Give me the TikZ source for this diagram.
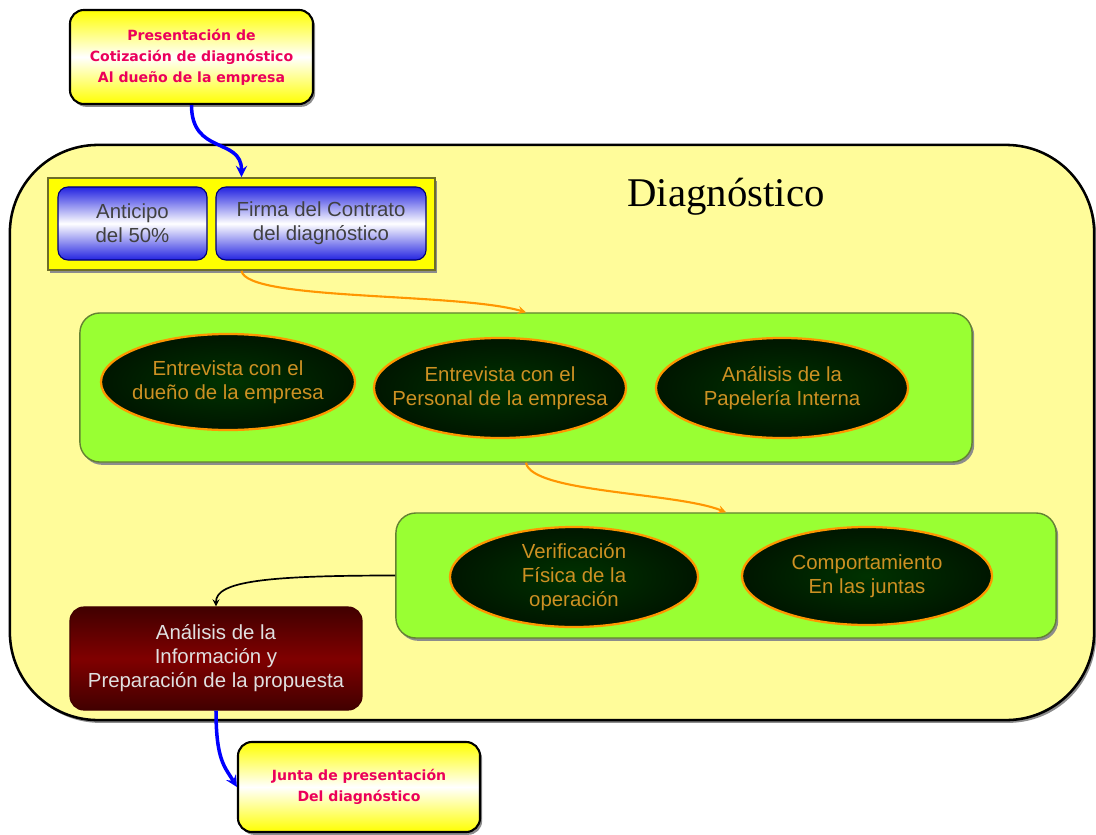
\documentclass[tikz,border=0pt]{standalone}
\usepackage{fontspec}
\setmainfont{Liberation Sans}
\newfontfamily\titulofont{Liberation Serif}
\newfontfamily\rosafont{DejaVu Sans}
\usetikzlibrary{shapes.geometric}
\usetikzlibrary{shadows}
\usetikzlibrary{calc}

\definecolor{fondo}{RGB}{255,252,154}
\definecolor{amarillo}{RGB}{255,255,0}
\definecolor{oliva}{RGB}{110,110,40}
\definecolor{lima}{RGB}{153,255,51}
\definecolor{bordelima}{RGB}{100,130,50}
\definecolor{verdeosc}{RGB}{0,50,0}
\definecolor{verdenegro}{RGB}{0,22,0}
\definecolor{naranja}{RGB}{255,150,0}
\definecolor{oro}{RGB}{205,145,35}
\definecolor{rosa}{RGB}{235,0,90}
\definecolor{azul}{RGB}{35,35,225}
\definecolor{azulosc}{RGB}{0,0,120}
\definecolor{vino}{RGB}{128,0,0}
\definecolor{vinoosc}{RGB}{65,0,0}

\newcommand{\Tx}{\fontsize{14.5}{17}\selectfont}
\newcommand{\Rs}{\rosafont\bfseries\fontsize{10}{15}\selectfont}

\tikzset{
  sombra/.style={drop shadow={shadow xshift=1.5pt,shadow yshift=-2pt,fill=black!45,opacity=1}},
  nota/.style={rectangle, rounded corners=0.35cm, draw=black, line width=1.5pt,
    top color=amarillo, bottom color=amarillo, middle color=white,
    text=rosa, font=\Rs, align=center, inner sep=0pt, sombra},
  boton/.style={rectangle, rounded corners=0.25cm, draw=azulosc, line width=0.8pt,
    top color=azul, bottom color=azul, middle color=white,
    text=black!75, font=\Tx, align=center, inner sep=0pt},
  franja/.style={rectangle, rounded corners=0.5cm, draw=bordelima, line width=1pt,
    fill=lima, inner sep=0pt, sombra},
  burbuja/.style={ellipse, draw=naranja, line width=1.6pt,
    inner color=verdeosc, outer color=verdenegro,
    text=oro, font=\Tx, align=center, inner xsep=-14pt, inner ysep=0pt},
  flecha/.style={-stealth},
}

\begin{document}
\begin{tikzpicture}[x=0.025cm, y=-0.025cm]
\useasboundingbox (0,0) rectangle (1096,834);
\clip (0,0) rectangle (1096,834);

%%%%%%%%%%%%%%%%%%%%%%%%%%%%%%%%%%%%%%%%%%%%%%%%%%%%%%%%%%%%%% marco
\node[rectangle, rounded corners=2.2cm, draw=black, line width=1.8pt, fill=fondo,
  minimum width=27.1cm, minimum height=14.375cm, inner sep=0pt, sombra] (diag) at (552,432.5) {};
\node[font=\titulofont\fontsize{29}{32}\selectfont] (titulo) at (726,197) {Diagnóstico};

%%%%%%%%%%%%%%%%%%%%%%%%%%%%%%%%%%%%%%%%%%%%%%%%%%%%%%%%%%%%%% entrada
\node[nota, minimum width=6.075cm, minimum height=2.35cm] (pres) at (191.5,57)
  {Presentación de\\Cotización de diagnóstico\\Al dueño de la empresa};

\node[rectangle, draw=oliva, line width=1.2pt, fill=amarillo,
  minimum width=9.675cm, minimum height=2.3cm, inner sep=0pt, sombra] (grupo) at (241.5,224) {};
\node[boton, minimum width=3.725cm, minimum height=1.825cm] (anticipo) at (132.5,223.5)
  {Anticipo\\del 50\%};
\node[boton, minimum width=5.25cm, minimum height=1.825cm] (firma) at (321,223.5)
  {Firma del Contrato\\del diagnóstico};

%%%%%%%%%%%%%%%%%%%%%%%%%%%%%%%%%%%%%%%%%%%%%%%%%%%%%%%%%%%%%% entrevistas
\node[franja, minimum width=22.3cm, minimum height=3.725cm] (verde1) at (526,387.5) {};
\node[burbuja, minimum width=6.35cm, minimum height=2.4cm] (dueno) at (228,382)
  {Entrevista con el\\dueño de la empresa};
\node[burbuja, minimum width=6.3cm, minimum height=2.5cm] (personal) at (500,388)
  {Entrevista con el\\Personal de la empresa};
\node[burbuja, minimum width=6.3cm, minimum height=2.5cm] (papeleria) at (782,388)
  {Análisis de la\\Papelería Interna};

%%%%%%%%%%%%%%%%%%%%%%%%%%%%%%%%%%%%%%%%%%%%%%%%%%%%%%%%%%%%%% observacion
\node[franja, minimum width=16.5cm, minimum height=3.125cm] (verde2) at (726,575.5) {};
\node[burbuja, minimum width=6.2cm, minimum height=2.5cm] (verif) at (574,577)
  {Verificación\\Física de la\\operación};
\node[burbuja, minimum width=6.25cm, minimum height=2.45cm] (juntas) at (867,576)
  {Comportamiento\\En las juntas};

%%%%%%%%%%%%%%%%%%%%%%%%%%%%%%%%%%%%%%%%%%%%%%%%%%%%%%%%%%%%%% salida
\node[rectangle, rounded corners=0.35cm, draw=vinoosc, line width=0.8pt,
  top color=vinoosc, bottom color=vinoosc, middle color=vino,
  text=black!12, font=\Tx, align=center, inner sep=0pt,
  minimum width=7.3cm, minimum height=2.575cm] (analisis) at (216,658.5)
  {Análisis de la\\Información y\\Preparación de la propuesta};

\node[nota, minimum width=6.05cm, minimum height=2.25cm] (junta) at (359,787)
  {Junta de presentación\\Del diagnóstico};

%%%%%%%%%%%%%%%%%%%%%%%%%%%%%%%%%%%%%%%%%%%%%%%%%%%%%%%%%%%%%% flechas
\draw[line width=2.5pt, blue, flecha] (pres.south) .. controls +(0,50) and +(0,-40) .. (grupo.north);
\draw[line width=1.5pt, naranja, flecha] (grupo.south) .. controls +(5,30) and +(-70,-20) .. (verde1.north);
\draw[line width=1.5pt, naranja, flecha] (verde1.south) .. controls +(5,30) and +(-50,-20) .. (verde2.north);
\draw[line width=1.2pt, black, flecha] (verde2.west) .. controls +(-130,0) and +(0,-25) .. (analisis.north);
\draw[line width=2.5pt, blue, flecha] (analisis.south) .. controls +(0,50) and +(-12,-20) .. (junta.west);

\end{tikzpicture}
\end{document}
